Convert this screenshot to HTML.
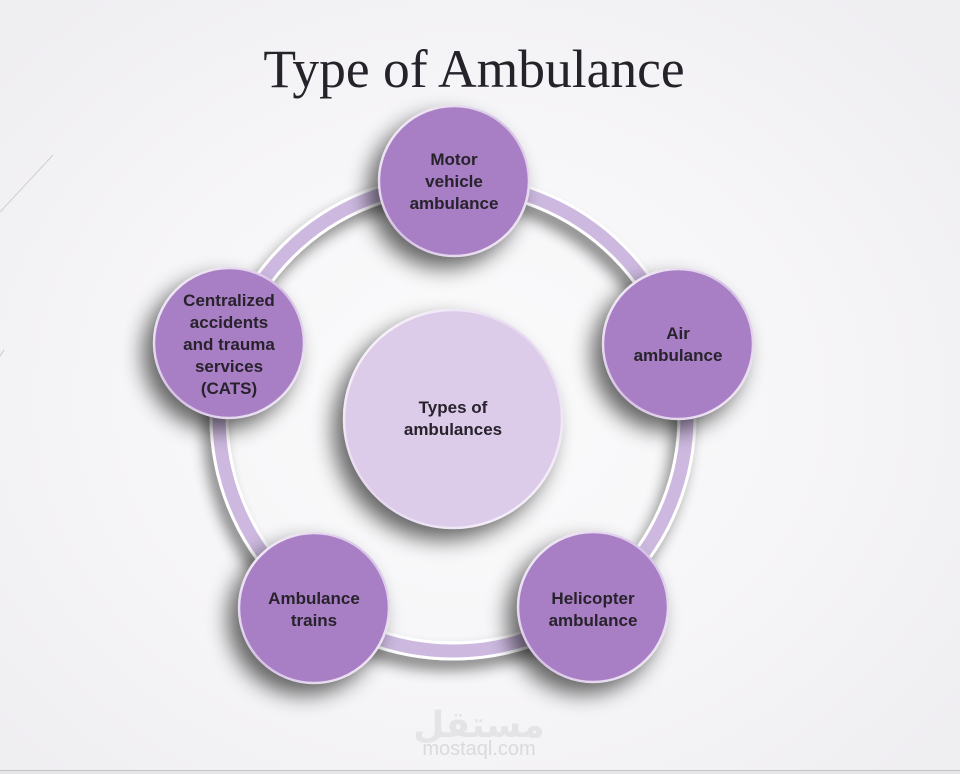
<!DOCTYPE html>
<html>
<head>
<meta charset="utf-8">
<style>
html,body{margin:0;padding:0;}
body{width:960px;height:774px;overflow:hidden;position:relative;
background:radial-gradient(ellipse 620px 520px at 470px 400px,#fbfbfc 0%,#f6f5f7 55%,#efeef1 100%);}
svg{position:absolute;left:0;top:0;}
.t{font-family:"Liberation Sans",Arial,sans-serif;font-weight:bold;font-size:17px;fill:#27222c;text-anchor:middle;}
</style>
</head>
<body>
<svg width="960" height="774" viewBox="0 0 960 774" xmlns="http://www.w3.org/2000/svg">
<defs>
<filter id="sh" x="-50%" y="-50%" width="200%" height="200%">
<feGaussianBlur in="SourceAlpha" stdDeviation="11"/>
<feOffset dx="-10" dy="11" result="b"/>
<feComponentTransfer><feFuncA type="linear" slope="0.6"/></feComponentTransfer>
<feMerge><feMergeNode/><feMergeNode in="SourceGraphic"/></feMerge>
</filter>
<filter id="shr" x="-20%" y="-20%" width="140%" height="140%">
<feGaussianBlur in="SourceAlpha" stdDeviation="7"/>
<feOffset dx="-6" dy="10" result="b"/>
<feComponentTransfer><feFuncA type="linear" slope="0.45"/></feComponentTransfer>
<feMerge><feMergeNode/><feMergeNode in="SourceGraphic"/></feMerge>
</filter>
<linearGradient id="rim" x1="0" y1="0" x2="1" y2="1">
<stop offset="0" stop-color="#ffffff" stop-opacity="0.95"/>
<stop offset="0.5" stop-color="#e9ddf3" stop-opacity="0.7"/>
<stop offset="1" stop-color="#ffffff" stop-opacity="0.9"/>
</linearGradient>
</defs>

<!-- faint left lines -->
<line x1="0" y1="212" x2="53" y2="155" stroke="#cfcfd3" stroke-width="1"/>
<line x1="0" y1="356" x2="4" y2="350" stroke="#c8c8cc" stroke-width="1"/>

<!-- title -->
<text x="474" y="87" font-family="'Liberation Serif','Times New Roman',serif" font-size="53.5" fill="#25222a" text-anchor="middle">Type of Ambulance</text>

<!-- ring -->
<g filter="url(#shr)">
<circle cx="453" cy="417" r="234" fill="none" stroke="#ffffff" stroke-width="19"/>
<circle cx="453" cy="417" r="234" fill="none" stroke="#cdb9e0" stroke-width="13"/>
</g>

<!-- center -->
<g filter="url(#sh)">
<circle cx="453" cy="419" r="110" fill="#dccbe9"/>
</g>
<circle cx="453" cy="419" r="109" fill="none" stroke="url(#rim)" stroke-width="2.5"/>
<text class="t" x="453" y="413">Types of</text>
<text class="t" x="453" y="435">ambulances</text>

<!-- nodes -->
<g filter="url(#sh)">
<circle cx="454" cy="181" r="76" fill="#a87fc4"/>
<circle cx="678" cy="344" r="76" fill="#a87fc4"/>
<circle cx="593" cy="607" r="76" fill="#a87fc4"/>
<circle cx="314" cy="608" r="76" fill="#a87fc4"/>
<circle cx="229" cy="343" r="76" fill="#a87fc4"/>
</g>
<g fill="none" stroke="url(#rim)" stroke-width="2.5">
<circle cx="454" cy="181" r="75"/>
<circle cx="678" cy="344" r="75"/>
<circle cx="593" cy="607" r="75"/>
<circle cx="314" cy="608" r="75"/>
<circle cx="229" cy="343" r="75"/>
</g>

<text class="t" x="454" y="165">Motor</text>
<text class="t" x="454" y="187">vehicle</text>
<text class="t" x="454" y="209">ambulance</text>

<text class="t" x="678" y="339">Air</text>
<text class="t" x="678" y="361">ambulance</text>

<text class="t" x="593" y="604">Helicopter</text>
<text class="t" x="593" y="626">ambulance</text>

<text class="t" x="314" y="604">Ambulance</text>
<text class="t" x="314" y="626">trains</text>

<text class="t" x="229" y="306">Centralized</text>
<text class="t" x="229" y="328">accidents</text>
<text class="t" x="229" y="350">and trauma</text>
<text class="t" x="229" y="372">services</text>
<text class="t" x="229" y="394">(CATS)</text>

<!-- watermark -->
<text x="479" y="737" font-family="'DejaVu Sans',sans-serif" font-weight="bold" font-size="36" fill="#e4e4e6" text-anchor="middle">مستقل</text>
<text x="479" y="755" font-family="'Liberation Sans',Arial,sans-serif" font-size="20" fill="#dadadc" text-anchor="middle">mostaql.com</text>

<!-- bottom strip -->
<rect x="0" y="770" width="960" height="1" fill="#c4c4c6"/>
<rect x="0" y="771" width="960" height="3" fill="#e6e6e8"/>
</svg>
</body>
</html>
